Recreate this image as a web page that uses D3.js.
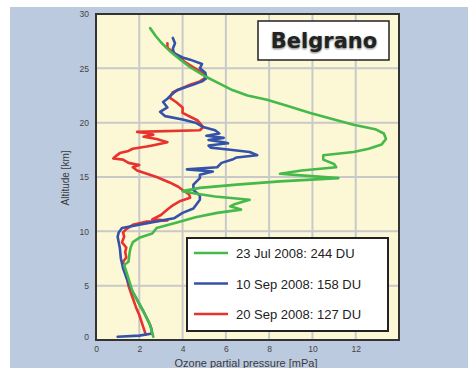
<!DOCTYPE html>
<html>
<head>
<meta charset="utf-8">
<script src="https://cdn.jsdelivr.net/npm/d3@7"></script>
<style>
  body { margin: 0; background: #fff; }
  svg { display: block; font-family: "Liberation Sans", Arial, sans-serif; }
  .tick text { fill: #444; font-size: 8.5px; }
</style>
</head>
<body>
<svg id="chart" width="468" height="368"></svg>
<script>
'use strict';

// altitude [km] / ozone partial pressure [mPa]
var greenAlt = [28.7, 28.0, 27.4, 26.6, 25.8, 25.1, 24.2, 23.5, 23.0, 22.5, 22.1, 21.5, 20.9, 20.3, 19.8, 19.4, 19.0, 18.5, 18.0, 17.6, 17.3, 17.0, 16.6, 16.2, 15.9, 15.6, 15.3, 15.1, 14.9, 14.6, 14.3, 14.0, 13.7, 13.5, 13.2, 12.9, 12.5, 12.3, 12.0, 11.7, 11.3, 10.8, 10.3, 9.8, 9.4, 9.0, 8.5, 8.0, 7.2, 6.9, 6.0, 5.0, 4.4, 3.5, 2.6, 1.4, 0.6, 0.3];
var greenO3 = [2.5, 2.75, 3.0, 3.4, 3.9, 4.35, 5.1, 5.8, 6.3, 7.0, 7.9, 8.9, 9.9, 11.0, 11.9, 12.9, 13.3, 13.4, 13.2, 12.6, 11.9, 10.5, 10.5, 11.0, 11.1, 9.5, 8.5, 9.8, 11.2, 8.5, 6.5, 4.8, 4.0, 4.5, 5.5, 7.1, 6.4, 6.2, 6.7, 5.6, 4.6, 3.7, 2.8, 2.6, 2.0, 1.7, 1.6, 1.55, 1.5, 1.3, 1.45, 1.6, 1.7, 1.95, 2.2, 2.5, 2.6, 2.65];

var blueAlt = [27.8, 27.3, 26.8, 26.4, 26.0, 25.8, 25.4, 25.0, 24.6, 24.1, 23.8, 23.5, 23.0, 22.6, 22.2, 21.9, 21.4, 21.0, 20.6, 20.3, 20.0, 19.6, 19.3, 19.0, 18.8, 18.6, 18.4, 18.2, 18.1, 17.9, 17.7, 17.5, 17.3, 17.0, 16.8, 16.6, 16.3, 15.9, 15.7, 15.5, 15.2, 14.9, 14.3, 13.8, 13.3, 12.9, 12.1, 11.7, 11.2, 10.8, 10.6, 10.3, 9.9, 9.5, 8.5, 7.5, 6.6, 5.5, 4.4, 3.5, 2.6, 1.6, 1.1, 0.6, 0.4, 0.3];
var blueO3 = [3.55, 3.65, 3.55, 3.6, 4.0, 4.35, 4.9, 4.8, 5.05, 5.1, 4.9, 4.5, 3.75, 3.5, 3.3, 3.1, 3.3, 2.96, 3.2, 4.0, 4.6, 4.95, 5.5, 5.7, 5.1, 5.9, 5.2, 5.9, 6.1, 5.2, 5.3, 6.2, 7.1, 7.45, 6.5, 6.3, 5.8, 5.6, 4.2, 5.4, 4.8, 4.8, 4.5, 4.5, 4.8, 4.8, 4.5, 4.0, 3.6, 2.5, 2.0, 1.2, 1.05, 1.0, 1.1, 1.15, 1.25, 1.45, 1.7, 1.95, 2.2, 2.45, 2.55, 2.6, 2.0, 1.0];

var redAlt = [27.3, 26.9, 26.2, 25.6, 25.1, 24.6, 24.2, 23.8, 23.5, 23.1, 22.8, 22.3, 21.9, 21.4, 20.9, 20.5, 20.2, 19.6, 19.3, 19.15, 19.0, 18.9, 18.7, 18.5, 18.2, 17.9, 17.8, 17.6, 17.4, 17.2, 16.9, 16.7, 16.6, 16.3, 16.1, 15.9, 15.6, 15.3, 15.0, 14.5, 14.1, 13.8, 13.4, 13.1, 12.8, 12.4, 12.0, 11.5, 11.1, 11.0, 10.9, 10.6, 10.2, 9.9, 9.5, 9.0, 8.5, 8.1, 7.6, 7.2, 6.0, 5.0, 4.4, 3.0, 2.3, 1.1, 0.5];
var redO3 = [3.3, 3.3, 3.75, 4.1, 4.5, 4.9, 5.1, 4.8, 4.35, 3.9, 3.55, 3.4, 3.7, 4.0, 4.0, 4.4, 4.7, 4.95, 4.8, 1.9, 2.5, 2.65, 2.2, 2.8, 3.3, 2.6, 2.35, 1.7, 1.5, 1.1, 0.9, 0.8, 1.25, 1.5, 2.0, 1.7, 1.9, 2.35, 2.8, 3.4, 3.8, 4.0, 4.3, 4.35, 3.9, 3.55, 3.3, 3.0, 2.6, 3.3, 2.35, 1.7, 1.4, 1.25, 1.3, 1.2, 1.4, 1.35, 1.4, 1.25, 1.4, 1.5, 1.6, 1.85, 2.0, 2.2, 2.3];

var seriesNames = ["23 Jul 2008: 244 DU", "10 Sep 2008: 158 DU", "20 Sep 2008: 127 DU"];
var seriesColors = ["#45b94a", "#3452aa", "#e8322b"];
var xTicks = [0, 2, 4, 6, 8, 10, 12];
var yTicks = [0, 5, 10, 15, 20, 25, 30];

var svg = d3.select("#chart");

// blue panel behind everything
svg.append("rect")
    .attr("x", 10).attr("y", 7)
    .attr("width", 458).attr("height", 361)
    .attr("fill", "#bccadf");

var plotL = 96, plotT = 14, plotR = 399, plotB = 340;
var x = d3.scaleLinear().domain([0, 14]).range([plotL, plotR]);
var y = d3.scaleLinear().domain([0, 30]).range([plotB, plotT]);

svg.append("rect")
    .attr("x", plotL).attr("y", plotT)
    .attr("width", plotR - plotL).attr("height", plotB - plotT)
    .attr("fill", "#fcf8d6");

// grid
svg.append("g")
    .selectAll("line")
    .data(d3.range(2, 14, 2))
    .enter()
    .append("line")
    .attr("x1", function(d) { return x(d); })
    .attr("x2", function(d) { return x(d); })
    .attr("y1", plotT).attr("y2", plotB)
    .attr("stroke", "#c9c9c9").attr("stroke-width", 2);

svg.append("g")
    .selectAll("line")
    .data([5, 10, 15, 20, 25])
    .enter()
    .append("line")
    .attr("y1", function(d) { return y(d); })
    .attr("y2", function(d) { return y(d); })
    .attr("x1", plotL).attr("x2", plotR)
    .attr("stroke", "#c9c9c9").attr("stroke-width", 2);

// profiles
var profiles = [
    { alt: greenAlt, o3: greenO3 },
    { alt: blueAlt, o3: blueO3 },
    { alt: redAlt, o3: redO3 }
];

var line = d3.line()
    .x(function(d) { return x(d[1]); })
    .y(function(d) { return y(d[0]); });

// red first, then blue, green on top
[2, 1, 0].forEach(function(i) {
    var p = profiles[i];
    var pts = p.alt.map(function(a, k) { return [a, p.o3[k]]; });
    svg.append("path")
        .datum(pts)
        .attr("d", line)
        .attr("fill", "none")
        .attr("stroke", seriesColors[i])
        .attr("stroke-width", 2.6)
        .attr("stroke-linejoin", "round")
        .attr("stroke-linecap", "round");
});

// frame
svg.append("rect")
    .attr("x", plotL).attr("y", plotT)
    .attr("width", plotR - plotL).attr("height", plotB - plotT)
    .attr("fill", "none")
    .attr("stroke", "#333").attr("stroke-width", 2);

// axes (labels only)
var xAxis = svg.append("g")
    .attr("transform", "translate(0," + (plotB + 3) + ")")
    .call(d3.axisBottom(x).tickValues(xTicks).tickSize(0).tickPadding(3));
xAxis.select(".domain").remove();

var yAxis = svg.append("g")
    .attr("transform", "translate(" + (plotL - 4) + ",0)")
    .call(d3.axisLeft(y).tickValues(yTicks).tickSize(0).tickPadding(3));
yAxis.select(".domain").remove();
yAxis.selectAll(".tick").filter(function(d) { return d === 0; })
    .select("text").attr("dy", "-0.1em");

svg.append("text")
    .attr("x", 246).attr("y", 367)
    .attr("text-anchor", "middle")
    .attr("font-size", 11)
    .attr("fill", "#3a3a3a")
    .text("Ozone partial pressure [mPa]");

svg.append("text")
    .attr("transform", "translate(69,178) rotate(-90)")
    .attr("text-anchor", "middle")
    .attr("font-size", 10)
    .attr("fill", "#3a3a3a")
    .text("Altitude [km]");

// station label
svg.append("rect")
    .attr("x", 258).attr("y", 21)
    .attr("width", 131).attr("height", 39)
    .attr("fill", "#fff")
    .attr("stroke", "#222").attr("stroke-width", 1.5);

var defs = svg.append("defs");
defs.append("filter").attr("id", "blur")
    .append("feGaussianBlur").attr("stdDeviation", 1.2);

svg.append("text")
    .attr("x", 324).attr("y", 49)
    .attr("text-anchor", "middle")
    .attr("font-family", "'DejaVu Sans', sans-serif")
    .attr("font-size", 21).attr("font-weight", "bold")
    .attr("fill", "#000").attr("opacity", 0.6)
    .attr("filter", "url(#blur)")
    .text("Belgrano");
svg.append("text")
    .attr("x", 324).attr("y", 48)
    .attr("text-anchor", "middle")
    .attr("font-family", "'DejaVu Sans', sans-serif")
    .attr("font-size", 21).attr("font-weight", "bold")
    .attr("fill", "#222")
    .text("Belgrano");

// legend
svg.append("rect")
    .attr("x", 187).attr("y", 238)
    .attr("width", 201).attr("height", 93)
    .attr("fill", "#fff")
    .attr("stroke", "#222").attr("stroke-width", 2);

var legend = svg.append("g")
    .selectAll("g")
    .data(seriesNames)
    .enter()
    .append("g")
    .attr("transform", function(d, i) { return "translate(0," + (253 + i * 30.5) + ")"; });

legend.append("line")
    .attr("x1", 194).attr("x2", 228)
    .attr("y1", 0).attr("y2", 0)
    .attr("stroke", function(d, i) { return seriesColors[i]; })
    .attr("stroke-width", 2.6);

legend.append("text")
    .attr("x", 236).attr("y", 5)
    .attr("font-size", 13)
    .attr("fill", "#222")
    .text(function(d) { return d; });
</script>
</body>
</html>
